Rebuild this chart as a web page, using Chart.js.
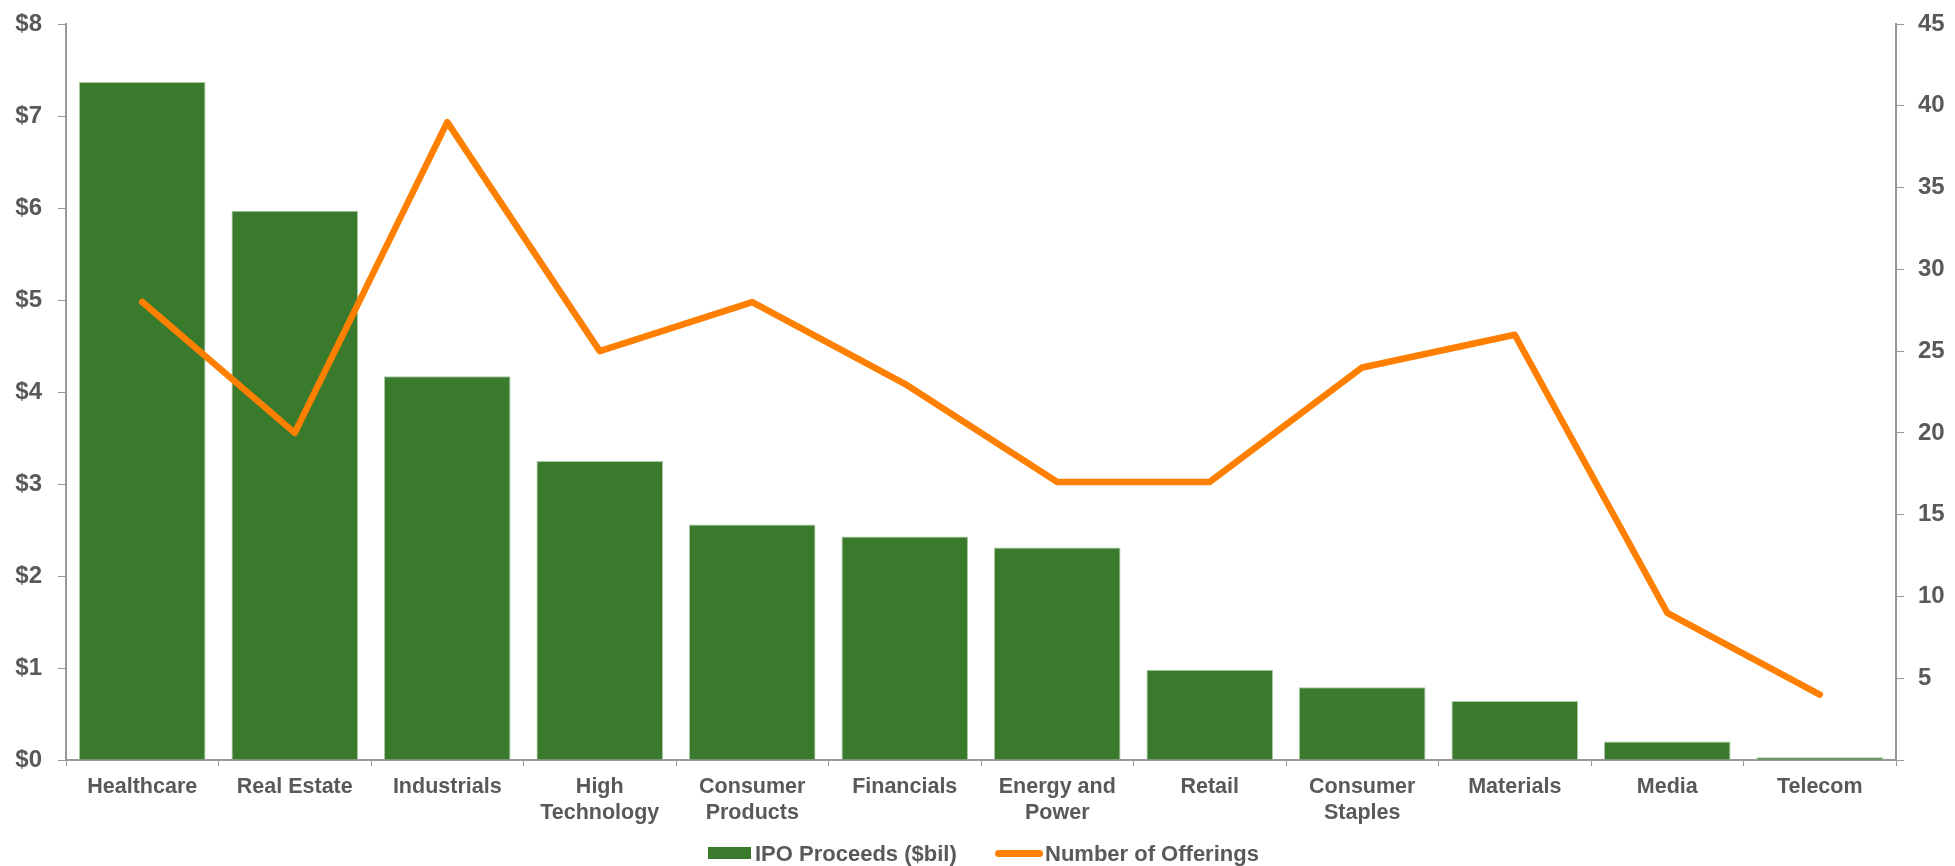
<!DOCTYPE html>
<html>
<head>
<meta charset="utf-8">
<script src="https://cdn.jsdelivr.net/npm/chart.js@4"></script>
<style>
  html, body { margin: 0; padding: 0; background: #fff; }
  #wrap { position: relative; width: 1955px; height: 866px; }
  #ipoChart { position: absolute; left: 0; top: 0; }
  .lg { position: absolute; }
  .lg-text {
    top: 841px; line-height: 22px;
    font: bold 22px "Liberation Sans", Arial, sans-serif; color: #595959;
    white-space: nowrap;
  }
  .swatch-bar { left: 708px; top: 847px; width: 43px; height: 12px; background: #3a7a2c; }
  .swatch-line { left: 995px; top: 850px; width: 48px; height: 7px; border-radius: 4px; background: #ff7f00; }
</style>
</head>
<body>
<div id="wrap">
  <canvas id="ipoChart" width="1955" height="866"></canvas>
  <span class="lg swatch-bar"></span>
  <span class="lg lg-text" style="left:755px">IPO Proceeds ($bil)</span>
  <span class="lg swatch-line"></span>
  <span class="lg lg-text" style="left:1045px">Number of Offerings</span>
</div>
<script>
const sectors = [
  "Healthcare", "Real Estate", "Industrials", ["High", "Technology"],
  ["Consumer", "Products"], "Financials", ["Energy and", "Power"], "Retail",
  ["Consumer", "Staples"], "Materials", "Media", "Telecom"
];
const proceeds = [7.37, 5.97, 4.17, 3.25, 2.56, 2.43, 2.31, 0.98, 0.79, 0.64, 0.2, 0.03];
const offerings = [28, 20, 39, 25, 28, 23, 17, 17, 24, 26, 9, 4];

const GREEN = "#3a7a2c";
const ORANGE = "#ff7f00";
const AXIS = "#999999";
const TEXT = "#595959";
const FAMILY = "'Liberation Sans', Arial, sans-serif";
const xFont = { family: FAMILY, size: 21.5, weight: "bold", lineHeight: 1.17 };
const yFont = { family: FAMILY, size: 24, weight: "bold" };

Chart.defaults.font.family = FAMILY;

// fixed axis boxes so the plot area lands at a known rectangle
function fixBox(w, h) {
  return (s) => {
    if (w) s.width = w;
    if (h) s.height = h;
    s.paddingTop = 0; s.paddingBottom = 0; s.paddingLeft = 0; s.paddingRight = 0;
  };
}

new Chart(document.getElementById("ipoChart"), {
  data: {
    labels: sectors,
    datasets: [
      {
        type: "line",
        label: "Number of Offerings",
        data: offerings,
        yAxisID: "yCount",
        borderColor: ORANGE,
        borderWidth: 6.5,
        borderCapStyle: "round",
        borderJoinStyle: "round",
        pointRadius: 0,
        tension: 0,
        order: 0
      },
      {
        type: "bar",
        label: "IPO Proceeds ($bil)",
        data: proceeds,
        yAxisID: "yUsd",
        backgroundColor: GREEN,
        borderColor: "#a9c9a0",
        borderWidth: 1,
        categoryPercentage: 1,
        barPercentage: 0.83,
        order: 1
      }
    ]
  },
  options: {
    responsive: false,
    animation: false,
    layout: { padding: { top: 24, left: 0, right: 0, bottom: 0 } },
    plugins: { legend: { display: false }, tooltip: { enabled: false } },
    scales: {
      x: {
        grid: { display: true, drawOnChartArea: false, color: AXIS, tickLength: 6, offset: true },
        border: { color: AXIS, width: 2 },
        ticks: { color: TEXT, font: xFont, maxRotation: 0, autoSkip: false, padding: 9 },
        afterFit: fixBox(0, 106)
      },
      yUsd: {
        position: "left",
        min: 0, max: 8,
        grid: { drawOnChartArea: false, color: AXIS, tickLength: 8 },
        border: { color: AXIS, width: 2 },
        ticks: { stepSize: 1, color: TEXT, font: yFont, padding: 16, callback: (v) => "$" + v },
        afterFit: fixBox(66, 0)
      },
      yCount: {
        position: "right",
        min: 0, max: 45,
        grid: { drawOnChartArea: false, color: AXIS, tickLength: 8 },
        border: { color: AXIS, width: 2 },
        ticks: { stepSize: 5, color: TEXT, font: yFont, padding: 14, callback: (v) => v === 0 ? "" : v },
        afterFit: fixBox(59, 0)
      }
    }
  }
});
</script>
</body>
</html>
